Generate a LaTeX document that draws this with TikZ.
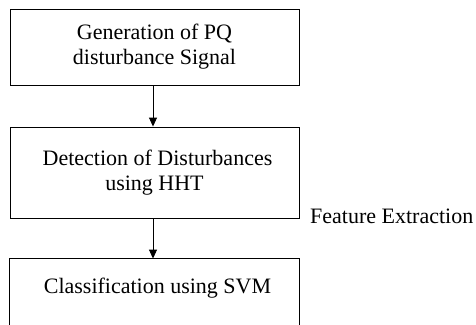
\documentclass[tikz,border=0pt]{standalone}
\usepackage{fontspec}
\setmainfont{Liberation Serif}
\usetikzlibrary{arrows.meta}
\begin{document}
\begin{tikzpicture}[x=1pt,y=1pt,
  box/.style={draw, line width=0.9pt, minimum width=289pt, align=center, font=\fontsize{22}{25}\selectfont, inner sep=0pt},
  flow/.style={line width=0.9pt, -{Triangle[length=9pt,width=8pt]}},
  lbl/.style={font=\fontsize{22}{25}\selectfont, inner sep=0pt}]
\clip (0,0) rectangle (476,-324);
\useasboundingbox (0,0) rectangle (476,-324);
\node[box, minimum height=76pt] (b1) at (154.5,-47) {Generation of PQ\\disturbance Signal};
\node[box, minimum height=91pt] (b2) at (154.5,-172.5) {\hspace*{6pt}Detection of Disturbances\\using HHT};
\node[box, draw=none, minimum height=58pt] (b3) at (154.5,-288) {\hspace*{6pt}Classification using SVM};
\draw[line width=0.9pt] ([yshift=-30pt]b3.south west) -- (b3.north west) -- (b3.north east) -- ([yshift=-30pt]b3.south east);
\node[lbl, anchor=west] (fe) at (310,-216) {Feature Extraction};
\draw[flow] (b1.south -| 153,0) -- (b2.north -| 153,0);
\draw[flow] (b2.south -| 153,0) -- (b3.north -| 153,0);
\end{tikzpicture}
\end{document}
